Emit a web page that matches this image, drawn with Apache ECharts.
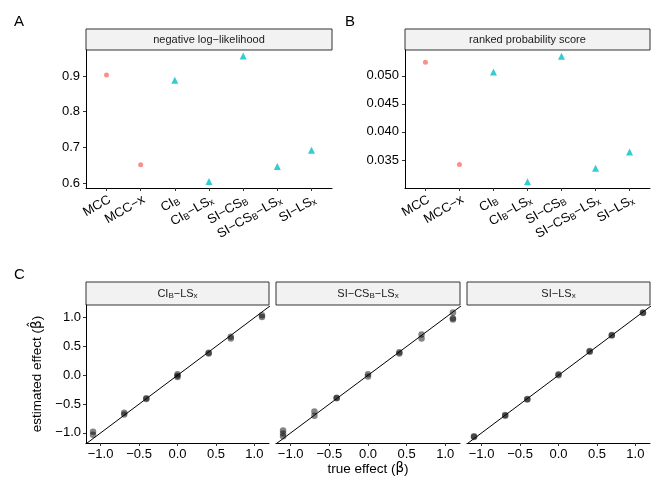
<!DOCTYPE html>
<html>
<head>
<meta charset="utf-8">
<script src="https://cdn.jsdelivr.net/npm/echarts@6/dist/echarts.min.js"></script>
<style>
  html, body { margin: 0; padding: 0; background: #fff; }
  #main { width: 664px; height: 498px; }
</style>
</head>
<body>
<div id="main"></div>
<script>
// model names (rich-text tick labels) and their group
var modelLabels = ['MCC', 'MCC\u2212x', 'CI{s|B}', 'CI{s|B}\u2212LS{s|x}', 'SI\u2212CS{s|B}', 'SI\u2212CS{s|B}\u2212LS{s|x}', 'SI\u2212LS{s|x}'];
var modelGroup = ['ref', 'ref', 'new', 'new', 'new', 'new', 'new'];

// panel A / B scores
var nllValues = [0.903, 0.651, 0.888, 0.604, 0.956, 0.646, 0.692];
var rpsValues = [0.0524, 0.0342, 0.0507, 0.0311, 0.0535, 0.0335, 0.0364];
var nllTicks = [0.6, 0.7, 0.8, 0.9];
var rpsTicks = [0.035, 0.040, 0.045, 0.050];

// panel C: true effects and replicate estimates per facet
var facetNames = ['CI{s|B}\u2212LS{s|x}', 'SI\u2212CS{s|B}\u2212LS{s|x}', 'SI\u2212LS{s|x}'];
var trueEffects = [-1.0986, -0.6931, -0.4055, 0, 0.4055, 0.6931, 1.0986];
var estCIBLSx = [[-0.98, -1.03], [-0.65, -0.68], [-0.40, -0.41], [0.02, -0.01, -0.03], [0.39, 0.38], [0.67, 0.64], [1.04, 1.01]];
var estSICSBLSx = [[-0.96, -1.01, -1.06], [-0.63, -0.70], [-0.39, -0.40], [0.02, -0.02], [0.40, 0.38], [0.71, 0.64], [1.09, 0.99, 0.97]];
var estSILSx = [[-1.07, -1.06], [-0.70, -0.69], [-0.42, -0.41], [0.00, 0.02], [0.42, 0.41], [0.70, 0.69], [1.09, 1.08]];
var effTicks = [-1.0, -0.5, 0.0, 0.5, 1.0];
var identityLine = [[-1.5, -1.5], [1.5, 1.5]];

var myChart = echarts.init(document.getElementById('main'));
var FONT = 'Liberation Sans, Arial, sans-serif';
var RED = '#F8766D', CYAN = '#00BFC4';
var subStyle = { s: { fontSize: 9, fontFamily: FONT, color: '#000', verticalAlign: 'bottom', padding: [5, 0, 0, 0] } };
var stripSub = { s: { fontSize: 8, fontFamily: FONT, color: '#1a1a1a', verticalAlign: 'bottom', padding: [4, 0, 0, 0] } };
var titleRich = { b: { fontSize: 13.5, fontFamily: 'DejaVu Sans', color: '#000' } };

function minus(s) { return String(s).replace('-', '\u2212'); }

var modelPos = modelLabels.map(function (m, i) { return i + 1; });

function modelAxis(grid) {
    return {
        gridIndex: grid, type: 'value', min: 0.4, max: 7.6,
        axisLine: { onZero: false, lineStyle: { color: '#000', width: 1 } },
        axisTick: { customValues: modelPos, length: 3, lineStyle: { color: '#333' } },
        axisLabel: {
            customValues: modelPos, rotate: 30, margin: 5, verticalAlign: 'top',
            color: '#000', fontSize: 13, fontFamily: FONT,
            formatter: function (v) { return modelLabels[Math.round(v) - 1]; },
            rich: subStyle
        },
        splitLine: { show: false }
    };
}

function scoreAxis(grid, min, max, ticks, digits) {
    return {
        gridIndex: grid, type: 'value', min: min, max: max,
        axisLine: { onZero: false, lineStyle: { color: '#000', width: 1 } },
        axisTick: { customValues: ticks, length: 3, lineStyle: { color: '#333' } },
        axisLabel: {
            customValues: ticks, margin: 6, color: '#000', fontSize: 13, fontFamily: FONT,
            formatter: function (v) { return v.toFixed(digits); }
        },
        splitLine: { show: false }
    };
}

function effAxis(grid, showLine, extra) {
    var ax = {
        gridIndex: grid, type: 'value', min: -1.19, max: 1.19,
        axisLine: { show: showLine, onZero: false, lineStyle: { color: '#000', width: 1 } },
        axisTick: { show: showLine, customValues: effTicks, length: 3, lineStyle: { color: '#333' } },
        axisLabel: {
            show: showLine, customValues: effTicks, margin: 5, color: '#000', fontSize: 13, fontFamily: FONT,
            formatter: function (v) { return minus(v.toFixed(1)); }
        },
        splitLine: { show: false }
    };
    return Object.assign(ax, extra || {});
}

function groupPoints(values, group) {
    var out = [];
    values.forEach(function (v, i) { if (modelGroup[i] === group) out.push([modelPos[i], v]); });
    return out;
}

function effPoints(est) {
    var out = [];
    est.forEach(function (reps, i) {
        reps.forEach(function (e) { out.push([trueEffects[i], e]); });
    });
    return out;
}

var grids = [
    { left: 86, top: 50, width: 246, height: 138 },
    { left: 405, top: 50, width: 245, height: 138 },
    { left: 86, top: 305, width: 183, height: 138 },
    { left: 276, top: 305, width: 184, height: 138 },
    { left: 467, top: 305, width: 183, height: 138 }
];

var series = [];
[nllValues, rpsValues].forEach(function (vals, g) {
    series.push({ type: 'scatter', xAxisIndex: g, yAxisIndex: g, symbol: 'circle', symbolSize: 5,
        itemStyle: { color: RED }, data: groupPoints(vals, 'ref') });
    series.push({ type: 'scatter', xAxisIndex: g, yAxisIndex: g, symbol: 'triangle', symbolSize: 7,
        itemStyle: { color: CYAN }, data: groupPoints(vals, 'new') });
});
[estCIBLSx, estSICSBLSx, estSILSx].forEach(function (est, k) {
    var g = k + 2;
    series.push({ type: 'line', xAxisIndex: g, yAxisIndex: g, data: identityLine, clip: true,
        showSymbol: false, symbol: 'none', lineStyle: { color: '#000', width: 1 }, silent: true });
    series.push({ type: 'scatter', xAxisIndex: g, yAxisIndex: g, symbolSize: 6.5,
        itemStyle: { color: 'rgba(0,0,0,0.6)' }, data: effPoints(est) });
});

// strips and panel letters
var graphic = [];
function strip(x, y, w, h, text) {
    graphic.push({ type: 'rect', shape: { x: x, y: y, width: w, height: h },
        style: { fill: '#f2f2f2', stroke: '#333', lineWidth: 1 } });
    graphic.push({ type: 'text', x: x + w / 2, y: y + h / 2,
        style: { text: text, fill: '#1a1a1a', font: '11px ' + FONT, align: 'center', verticalAlign: 'middle', rich: stripSub } });
}
strip(86, 29, 246, 21, 'negative log\u2212likelihood');
strip(405, 29, 245, 21, 'ranked probability score');
facetNames.forEach(function (n, k) {
    var gr = grids[k + 2];
    strip(gr.left, 282, gr.width, 23, n);
});
[['A', 14, 22], ['B', 345, 22], ['C', 14, 275]].forEach(function (p) {
    graphic.push({ type: 'text', x: p[1], y: p[2],
        style: { text: p[0], fill: '#000', font: '15px ' + FONT, verticalAlign: 'middle' } });
});

var option = {
    animation: false,
    grid: grids,
    xAxis: [
        modelAxis(0), modelAxis(1),
        effAxis(2, true),
        effAxis(3, true, { name: 'true effect ({b|\u03b2})', nameLocation: 'middle', nameGap: 9,
            nameTextStyle: { color: '#000', fontSize: 13.5, fontFamily: FONT, rich: titleRich } }),
        effAxis(4, true)
    ],
    yAxis: [
        scoreAxis(0, 0.586, 0.973, nllTicks, 1),
        scoreAxis(1, 0.030, 0.0546, rpsTicks, 3),
        effAxis(2, true, { min: -1.175, max: 1.22, name: 'estimated effect ({b|\u03b2\u0302})', nameLocation: 'middle', nameGap: 42,
            nameTextStyle: { color: '#000', fontSize: 13.5, fontFamily: FONT, rich: titleRich } }),
        effAxis(3, false, { min: -1.175, max: 1.22 }),
        effAxis(4, false, { min: -1.175, max: 1.22 })
    ],
    series: series,
    graphic: graphic
};

myChart.setOption(option);
window.addEventListener('resize', function () { myChart.resize(); });
</script>
</body>
</html>
